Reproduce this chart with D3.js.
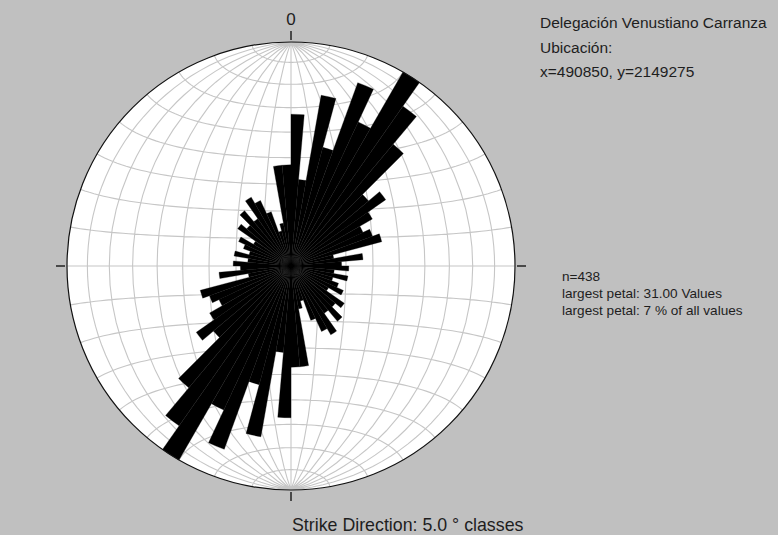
<!DOCTYPE html>
<html>
<head>
<meta charset="utf-8">
<script src="https://cdn.jsdelivr.net/npm/d3@7/dist/d3.min.js"></script>
<style>
  html, body { margin: 0; padding: 0; background: #c0c0c0; }
  svg { display: block; }
  text { font-family: "Liberation Sans", Arial, sans-serif; fill: #1e1e1e; }
</style>
</head>
<body>
<svg id="chart" width="778" height="535"></svg>
<script>
// Strike classes of 5 degrees, 0-180; each class is also drawn at +180 (bidirectional rose)
const classStart = d3.range(0, 180, 5);
const classCounts = [
  21, 12, 24, 17, 27, 22, 31, 27, 22, 14, 16, 13, 11, 12, 13, 6, 10, 7,
  8, 6, 8, 6, 7, 8, 6, 9, 8, 10, 8, 11, 10, 8, 5, 6, 14, 14
];
const classWidth = 5;
const maxCount = 31;

const titleLines = ["Delegación Venustiano Carranza", "Ubicación:", "x=490850, y=2149275"];
const statLines = ["n=438", "largest petal: 31.00 Values", "largest petal: 7 % of all values"];
const footer = "Strike Direction: 5.0 ° classes";
const northLabel = "0";

const svg = d3.select("#chart");
const cx = 291, cy = 266, R = 224;

svg.append("rect").attr("width", 778).attr("height", 535).attr("fill", "#c0c0c0");

// Equal-area (Schmidt) net: equatorial aspect, 10 degree graticule
const projection = d3.geoAzimuthalEqualArea()
  .rotate([0, 0])
  .scale(R / Math.SQRT2)
  .translate([cx, cy])
  .clipAngle(90)
  .precision(0.2);
const path = d3.geoPath(projection);
const graticule = d3.geoGraticule()
  .extentMajor([[-180, -90], [180, 90]])
  .extentMinor([[-180, -90], [180, 90]])
  .step([10, 10]);

svg.append("circle").attr("cx", cx).attr("cy", cy).attr("r", R).attr("fill", "#ffffff");
svg.append("path")
  .datum(graticule())
  .attr("d", path)
  .attr("fill", "none")
  .attr("stroke", "#c6c6c6")
  .attr("stroke-width", 1.1);

// Rose petals
const rScale = d3.scaleLinear().domain([0, maxCount]).range([0, R]);
const arc = d3.arc().innerRadius(0);
const petals = [];
classStart.forEach((s, i) => {
  [0, 180].forEach(off => {
    petals.push({
      startAngle: (s + off) * Math.PI / 180,
      endAngle: (s + off + classWidth) * Math.PI / 180,
      outerRadius: rScale(classCounts[i])
    });
  });
});
svg.append("g")
  .attr("transform", `translate(${cx},${cy})`)
  .selectAll("path")
  .data(petals)
  .join("path")
  .attr("d", d => arc(d))
  .attr("fill", "#000000")
  .attr("stroke", "#000000")
  .attr("stroke-width", 0.3);

// Net outline and cardinal ticks
svg.append("circle").attr("cx", cx).attr("cy", cy).attr("r", R)
  .attr("fill", "none").attr("stroke", "#111").attr("stroke-width", 1.2);
const tickAngles = [0, 90, 180, 270];
svg.append("g").selectAll("line")
  .data(tickAngles)
  .join("line")
  .attr("x1", a => cx + (R + 2) * Math.sin(a * Math.PI / 180))
  .attr("y1", a => cy - (R + 2) * Math.cos(a * Math.PI / 180))
  .attr("x2", a => cx + (R + 11) * Math.sin(a * Math.PI / 180))
  .attr("y2", a => cy - (R + 11) * Math.cos(a * Math.PI / 180))
  .attr("stroke", "#222")
  .attr("stroke-width", 1.5);

svg.append("text").attr("x", cx).attr("y", 25).attr("text-anchor", "middle")
  .style("font-size", "17px").text(northLabel);

svg.append("g").selectAll("text")
  .data(titleLines)
  .join("text")
  .attr("x", 540)
  .attr("y", (d, i) => 28 + i * 24.5)
  .style("font-size", "15.5px")
  .text(d => d);

svg.append("g").selectAll("text")
  .data(statLines)
  .join("text")
  .attr("x", 562)
  .attr("y", (d, i) => 281 + i * 17)
  .style("font-size", "13.6px")
  .text(d => d);

svg.append("text").attr("x", 292).attr("y", 531)
  .style("font-size", "17.8px").text(footer);
</script>
</body>
</html>
